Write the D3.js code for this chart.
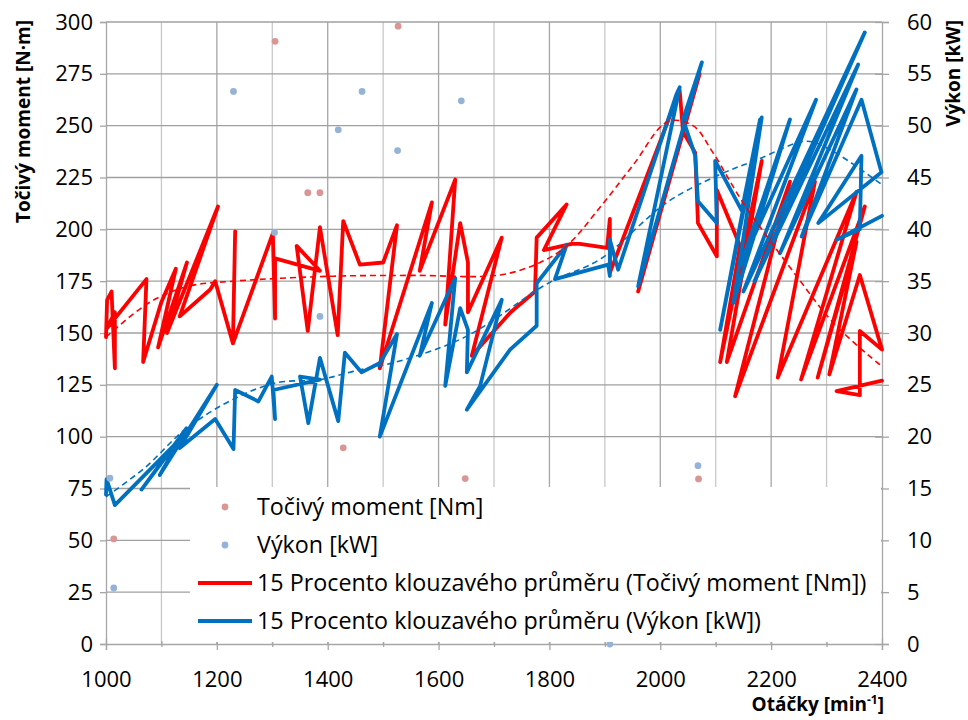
<!DOCTYPE html>
<html>
<head>
<meta charset="utf-8">
<script src="https://cdn.jsdelivr.net/npm/d3@7.9.0/dist/d3.min.js"></script>
<style>
  body { margin: 0; background: #fff; }
  svg { display: block; font-family: "Open Sans", sans-serif; }
</style>
</head>
<body>
<div id="chart"></div>
<script>
// raw measured points (sparse)
const torqueRpm = [1014, 1305, 1364, 1386, 1428, 1527, 1648, 2069];
const torqueNm = [50.7, 290.7, 217.7, 217.7, 94.6, 298, 79.8, 79.6];
const powerRpm = [1007, 1014, 1230, 1304, 1386, 1419, 1462, 1526, 1641, 1909, 2068];
const powerKw = [16, 5.4, 53.3, 39.7, 31.6, 49.6, 53.3, 47.6, 52.4, 0, 17.2];

// 15-point moving average, torque (points in data order, not sorted)
const torqueMaRpm = [1000, 1002, 1010, 1016, 1016, 1001, 1073, 1067, 1100, 1126, 1094, 1146, 1110, 1202,
  1133, 1188, 1197, 1229, 1233, 1229, 1301, 1305, 1305, 1386, 1344, 1364, 1386, 1418, 1428, 1458, 1500,
  1525, 1494, 1588, 1566, 1630, 1612, 1639, 1653, 1653, 1714, 1660, 1730, 1774, 1777, 1831, 1790, 1840,
  1855, 1904, 1909, 1909, 2035, 2041, 1960, 2071, 2041, 2063, 2068, 2102, 2102, 2144, 2108, 2183, 2120,
  2234, 2135, 2279, 2212, 2354, 2254, 2369, 2284, 2354, 2305, 2360, 2400, 2360, 2360, 2318, 2400];
const torqueMaNm = [148, 166, 170, 133, 160, 152, 176, 136, 165, 181, 143, 184, 150, 211,
  158, 171, 175, 145, 199, 145, 198, 157, 186, 180, 192, 151, 201, 149, 204, 183, 184,
  202, 133, 213, 180, 224, 154, 203, 184, 160, 196, 139, 160, 170, 196, 212, 190, 193,
  193, 191, 205, 179, 267, 247, 170, 275, 247, 237, 203, 187, 219, 192, 136, 233, 136,
  223, 119.5, 223, 128.5, 218, 127.6, 211, 128.5, 194, 130, 178, 142, 151, 120, 122, 127];

// 15-point moving average, power
const powerMaRpm = [1000, 1001, 1016, 1127, 1064, 1145, 1097, 1200, 1133, 1197, 1230,
  1233, 1275, 1299, 1305, 1302, 1386, 1350, 1365, 1386, 1419, 1431, 1461, 1494, 1525, 1494, 1588,
  1566, 1630, 1612, 1639, 1653, 1651, 1714, 1675, 1651, 1729, 1777, 1777, 1831, 1810, 1906, 1909,
  1909, 1924, 2029, 2035, 1960, 2075, 2041, 2063, 2068, 2102, 2099, 2147, 2180, 2108, 2183, 2132,
  2234, 2144, 2281, 2150, 2369, 2170, 2357, 2216, 2354, 2255, 2363, 2399, 2285, 2363, 2360, 2318, 2400];
const powerMaKw = [14.4, 15.9, 13.4, 19.4, 14.9, 20.8, 16.3, 25.0, 18.9, 21.7, 18.8,
  24.5, 23.4, 25.8, 21.7, 24.5, 25.5, 25.8, 21.3, 27.6, 21.5, 28.1, 26.2, 27.1, 29.9, 20.0, 32.9,
  27.8, 35.3, 24.9, 32.4, 30.3, 26.2, 33.2, 24.9, 22.6, 28.4, 30.7, 34.8, 38.5, 35.2, 36.6, 35.5,
  39.0, 36.1, 53.0, 53.7, 34.5, 56.1, 50.6, 47.1, 42.7, 40.6, 46.6, 41.8, 50.6, 30.3, 50.8, 32.9,
  50.6, 36.4, 52.5, 34.0, 59.0, 35.0, 55.9, 37.7, 53.5, 39.3, 52.5, 45.5, 40.6, 47.1, 40.0, 39.0, 41.3];

// polynomial trendlines
const torqueTrendRpm = [1000, 1080, 1150, 1230, 1410, 1550, 1711, 1783, 1831, 1891, 1951,
  2014, 2059, 2095, 2149, 2246, 2312, 2391, 2400];
const torqueTrendNm = [148, 165, 172.6, 175, 177.4, 177.8, 178, 184, 192, 210.5, 231,
  252, 250, 237, 213, 177.4, 155, 135.8, 134];
const powerTrendRpm = [1000, 1070, 1143, 1229, 1308, 1386, 1446, 1530, 1651, 1801, 1891, 2012,
  2108, 2174, 2264, 2306, 2400];
const powerTrendKw = [14.2, 17.0, 20.7, 23.6, 25.2, 25.5, 26.3, 27.3, 29.7, 34.9, 37.1, 42.6,
  45.3, 46.7, 48.5, 47.7, 44.3];

const rpmTicks = [1000, 1200, 1400, 1600, 1800, 2000, 2200, 2400];
const torqueTicks = d3.range(0, 301, 25);
const powerTicks = d3.range(0, 61, 5);

const legendLabels = [
  "Točivý moment [Nm]",
  "Výkon [kW]",
  "15 Procento klouzavého průměru (Točivý moment [Nm])",
  "15 Procento klouzavého průměru (Výkon [kW])"
];

const red = "#ff0000", blue = "#0070c0", pink = "#d99694", lightBlue = "#95b3d7";

const width = 968, height = 720;
const margin = {top: 22, right: 86, bottom: 76, left: 106};

const svg = d3.select("#chart").append("svg")
  .attr("width", width)
  .attr("height", height);

const x = d3.scaleLinear().domain([1000, 2400]).range([margin.left, width - margin.right]);
const yT = d3.scaleLinear().domain([0, 300]).range([height - margin.bottom, margin.top]);
const yP = d3.scaleLinear().domain([0, 60]).range([height - margin.bottom, margin.top]);

// grid
svg.append("g").selectAll("line")
  .data(d3.range(1100, 2400, 100))
  .join("line")
    .attr("x1", d => x(d)).attr("x2", d => x(d))
    .attr("y1", yT(0)).attr("y2", yT(300))
    .attr("stroke", d => d % 200 === 0 ? "#a6a6a6" : "#c8c8c8")
    .attr("stroke-width", 1.3);
svg.append("g").selectAll("line")
  .data(torqueTicks.filter(d => d > 0))
  .join("line")
    .attr("x1", x(1000)).attr("x2", x(2400))
    .attr("y1", d => yT(d)).attr("y2", d => yT(d))
    .attr("stroke", "#a0a0a0")
    .attr("stroke-width", 1.3);

// axes
const axisColor = "#a6a6a6";
const gl = svg.append("g")
  .attr("transform", `translate(${margin.left},0)`)
  .call(d3.axisLeft(yT).tickValues(torqueTicks).tickSize(6).tickPadding(7));
const gr = svg.append("g")
  .attr("transform", `translate(${width - margin.right},0)`)
  .call(d3.axisRight(yP).tickValues(powerTicks).tickSize(7).tickPadding(18));
gr.selectAll(".tick line").attr("x1", -7);
const gb = svg.append("g")
  .attr("transform", `translate(0,${height - margin.bottom})`)
  .call(d3.axisBottom(x).tickValues(rpmTicks).tickFormat(d3.format("d")).tickSize(6).tickPadding(21));
gb.selectAll(".tick line").attr("y1", -6);
svg.append("g")
  .attr("transform", `translate(0,${height - margin.bottom})`)
  .call(d3.axisBottom(x).tickValues(d3.range(1100, 2400, 200)).tickSize(3).tickFormat(""))
  .call(g => g.select(".domain").remove())
  .selectAll(".tick line").attr("y1", -3);

[gl, gr, gb].forEach(g => {
  g.select(".domain").attr("stroke", axisColor).attr("stroke-width", 1.3);
  g.selectAll(".tick text").attr("font-size", 22).attr("fill", "#000")
    .attr("font-family", "Open Sans, sans-serif");
});
svg.selectAll(".tick line").attr("stroke", axisColor).attr("stroke-width", 1.3);

// moving averages
const lineT = d3.line().x(d => x(d[0])).y(d => yT(d[1]));
const lineP = d3.line().x(d => x(d[0])).y(d => yP(d[1]));

svg.append("path")
  .datum(d3.zip(torqueMaRpm, torqueMaNm))
  .attr("d", lineT)
  .attr("fill", "none").attr("stroke", red).attr("stroke-width", 3.8)
  .attr("stroke-linejoin", "round").attr("stroke-linecap", "round");
svg.append("path")
  .datum(d3.zip(powerMaRpm, powerMaKw))
  .attr("d", lineP)
  .attr("fill", "none").attr("stroke", blue).attr("stroke-width", 3.8)
  .attr("stroke-linejoin", "round").attr("stroke-linecap", "round");

// trendlines
const smooth = d3.curveCatmullRom.alpha(0.5);
svg.append("path")
  .datum(d3.zip(torqueTrendRpm, torqueTrendNm))
  .attr("d", d3.line().curve(smooth).x(d => x(d[0])).y(d => yT(d[1])))
  .attr("fill", "none").attr("stroke", red).attr("stroke-width", 1.6)
  .attr("stroke-dasharray", "6,4");
svg.append("path")
  .datum(d3.zip(powerTrendRpm, powerTrendKw))
  .attr("d", d3.line().curve(smooth).x(d => x(d[0])).y(d => yP(d[1])))
  .attr("fill", "none").attr("stroke", blue).attr("stroke-width", 1.6)
  .attr("stroke-dasharray", "6,4");

// scatter
svg.append("g").selectAll("circle")
  .data(d3.zip(torqueRpm, torqueNm))
  .join("circle")
    .attr("cx", d => x(d[0])).attr("cy", d => yT(d[1])).attr("r", 3.4)
    .attr("fill", pink);
svg.append("g").selectAll("circle")
  .data(d3.zip(powerRpm, powerKw))
  .join("circle")
    .attr("cx", d => x(d[0])).attr("cy", d => yP(d[1])).attr("r", 3.4)
    .attr("fill", lightBlue);

// legend
const lg = svg.append("g");
lg.append("rect")
  .attr("x", 190).attr("y", 487)
  .attr("width", x(2400) - 190 - 1).attr("height", yT(0) - 487 - 2)
  .attr("fill", "#fff");
const rowY = [507, 545, 583, 621];
legendLabels.forEach((label, i) => {
  const yy = rowY[i];
  if (i < 2) {
    lg.append("circle").attr("cx", 225).attr("cy", yy).attr("r", 3.4)
      .attr("fill", i === 0 ? pink : lightBlue);
  } else {
    lg.append("line").attr("x1", 198).attr("x2", 252).attr("y1", yy).attr("y2", yy)
      .attr("stroke", i === 2 ? red : blue).attr("stroke-width", 3.8);
  }
  lg.append("text").attr("x", 257).attr("y", yy).attr("dy", "0.35em")
    .attr("font-size", 23.3).text(label);
});

// titles
svg.append("text")
  .attr("transform", "translate(30,20) rotate(-90)")
  .attr("text-anchor", "end")
  .attr("font-size", 19).attr("font-weight", "bold")
  .text("Točivý moment [N·m]");
svg.append("text")
  .attr("transform", "translate(960,20) rotate(-90)")
  .attr("text-anchor", "end")
  .attr("font-size", 19).attr("font-weight", "bold")
  .text("Výkon [kW]");
const xt = svg.append("text")
  .attr("x", 884).attr("y", 711)
  .attr("text-anchor", "end")
  .attr("font-size", 19).attr("font-weight", "bold");
xt.append("tspan").text("Otáčky [min");
xt.append("tspan").attr("dy", -7).attr("font-size", 12).text("-1");
xt.append("tspan").attr("dy", 7).text("]");
</script>
</body>
</html>
